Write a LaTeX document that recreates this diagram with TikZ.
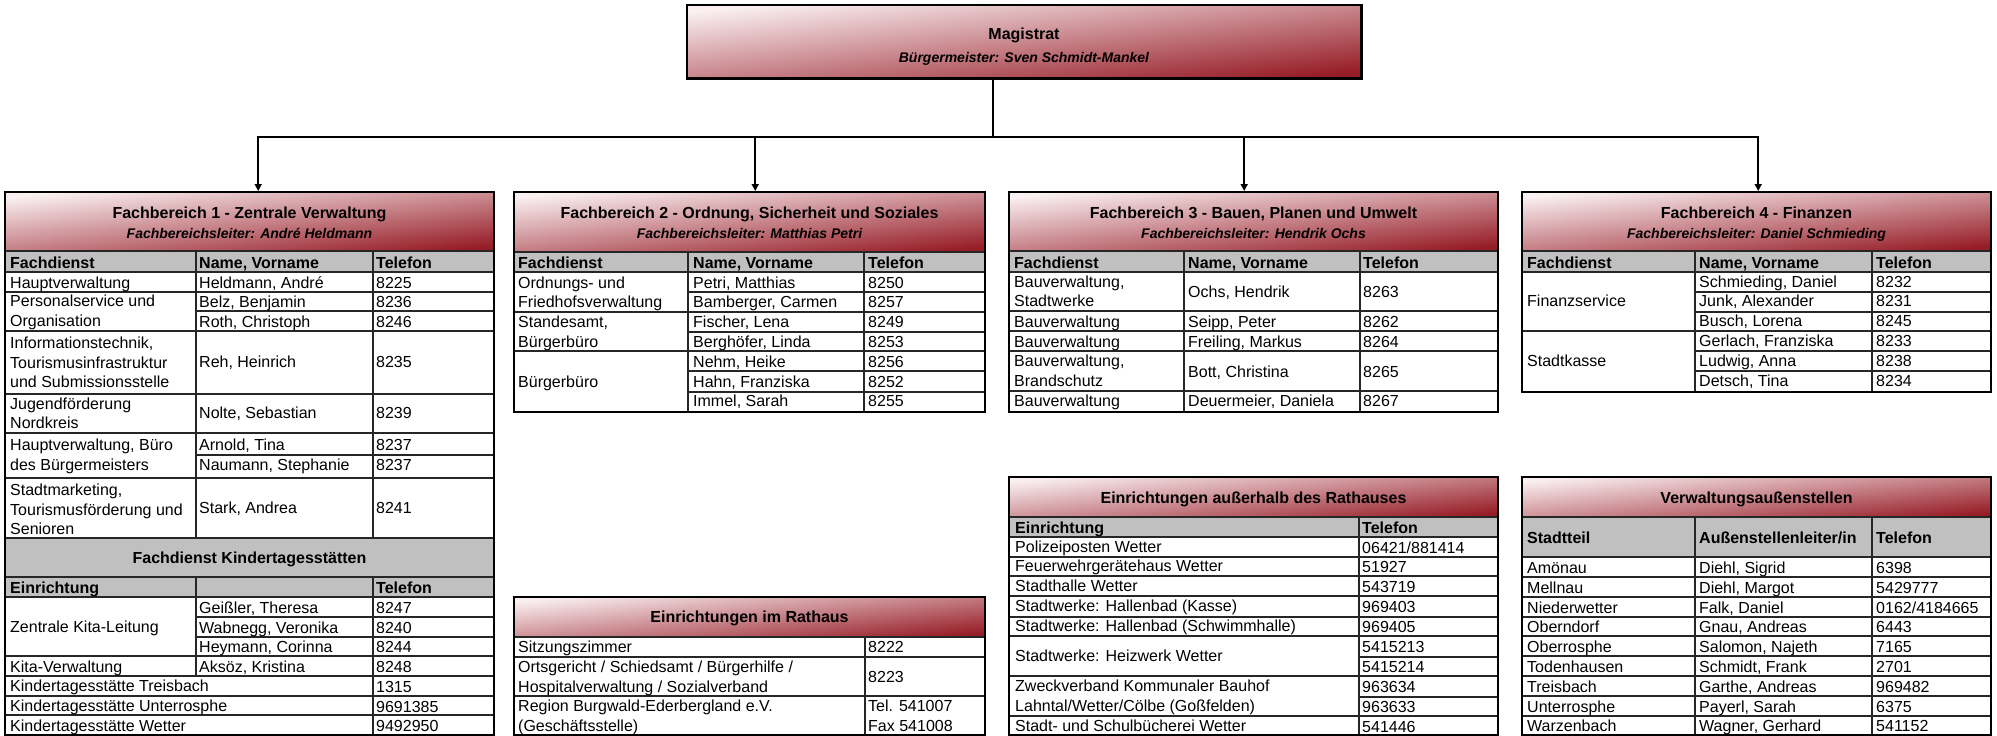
\documentclass[tikz,border=0pt]{standalone}
\usepackage{fontspec}
\setmainfont{Liberation Sans}
\usetikzlibrary{arrows.meta, positioning}
\definecolor{hdlight}{RGB}{250,240,242}
\definecolor{hddark}{RGB}{150,28,38}
\definecolor{hdgray}{RGB}{192,192,192}

\begin{document}
\begin{tikzpicture}[x=1pt, y=-1pt,
    hband/.style={anchor=north west, inner sep=0pt, top color=hdlight, bottom color=hddark, shading angle=6},
    tframe/.style={draw=black, line width=2.6pt},
    tline/.style={line width=1.1pt, black!85},
    link/.style={line width=1.6pt},
    cell/.style={anchor=base west, inner sep=0pt, font=\fontsize{16}{19}\selectfont},
    cellb/.style={cell, font=\fontsize{16}{19}\selectfont\bfseries},
    htitle/.style={anchor=base, inner sep=0pt, font=\fontsize{16}{19}\selectfont\bfseries},
    hsub/.style={anchor=base, inner sep=0pt, font=\fontsize{14}{17}\selectfont\bfseries\itshape}]

    \useasboundingbox (0,0) rectangle (1997,736);
    \fill[white] (0,0) rectangle (1997,736);

    % Magistrat
    \node[hband, minimum width=674pt, minimum height=73pt] (mag) at (687,5) {};
    \draw[tframe] (mag.north west) rectangle (mag.south east);
    \node[htitle] (magt) at (1024,39) {Magistrat};
    \node[hsub] (mags) at (1024,62) {Bürgermeister: Sven Schmidt-Mankel};

    % header bands
    \node[hband, minimum width=489pt, minimum height=59pt] (fb1) at (5,192) {};
    \node[hband, minimum width=471pt, minimum height=60pt] (fb2) at (514,192) {};
    \node[hband, minimum width=489pt, minimum height=59pt] (fb3) at (1009,192) {};
    \node[hband, minimum width=469pt, minimum height=59pt] (fb4) at (1522,192) {};
    \node[hband, minimum width=471pt, minimum height=40pt] (rh) at (514,597) {};
    \node[hband, minimum width=489pt, minimum height=40pt] (ea) at (1009,477) {};
    \node[hband, minimum width=469pt, minimum height=40pt] (va) at (1522,477) {};

    % gray rows
    \fill[hdgray] (5,251) rectangle (494,272) (5,538) rectangle (494,597);
    \fill[hdgray] (514,252) rectangle (985,272);
    \fill[hdgray] (1009,251) rectangle (1498,272) (1009,517) rectangle (1498,537);
    \fill[hdgray] (1522,251) rectangle (1991,272) (1522,517) rectangle (1991,557);

    % Fachbereich 1
    \foreach \y in {251,272,292,331,394,433,478,538,577,597,656,676,696,715}
        \draw[tline] (5,\y) -- (494,\y);
    \foreach \y in {311,455,617,637}
        \draw[tline] (196,\y) -- (494,\y);
    \draw[tline] (196,251) -- (196,538) (373,251) -- (373,538)
        (196,577) -- (196,676) (373,577) -- (373,735);
    \draw[tframe] (5,192) rectangle (494,735);

    % Fachbereich 2
    \foreach \y in {252,272,312,351}
        \draw[tline] (514,\y) -- (985,\y);
    \foreach \y in {292,332,371,392}
        \draw[tline] (688,\y) -- (985,\y);
    \draw[tline] (688,252) -- (688,412) (864,252) -- (864,412);
    \draw[tframe] (514,192) rectangle (985,412);

    % Fachbereich 3
    \foreach \y in {251,272,311,331,351,391}
        \draw[tline] (1009,\y) -- (1498,\y);
    \draw[tline] (1184,251) -- (1184,412) (1360,251) -- (1360,412);
    \draw[tframe] (1009,192) rectangle (1498,412);

    % Fachbereich 4
    \foreach \y in {251,272,331}
        \draw[tline] (1522,\y) -- (1991,\y);
    \foreach \y in {292,312,351,371}
        \draw[tline] (1695,\y) -- (1991,\y);
    \draw[tline] (1695,251) -- (1695,392) (1872,251) -- (1872,392);
    \draw[tframe] (1522,192) rectangle (1991,392);

    % Rathaus
    \foreach \y in {637,657,696}
        \draw[tline] (514,\y) -- (985,\y);
    \draw[tline] (865,637) -- (865,735);
    \draw[tframe] (514,597) rectangle (985,735);

    % ausserhalb
    \foreach \y in {517,537,557,576,596,617,636,676,716}
        \draw[tline] (1009,\y) -- (1498,\y);
    \foreach \y in {657,697}
        \draw[tline] (1359,\y) -- (1498,\y);
    \draw[tline] (1359,517) -- (1359,735);
    \draw[tframe] (1009,477) rectangle (1498,735);

    % Aussenstellen
    \foreach \y in {517,557,577,597,617,636,656,676,696,716}
        \draw[tline] (1522,\y) -- (1991,\y);
    \draw[tline] (1695,517) -- (1695,735) (1872,517) -- (1872,735);
    \draw[tframe] (1522,477) rectangle (1991,735);

    % titles
    \foreach \k/\x/\t/\l in {1/249.5/Fachbereich 1 - Zentrale Verwaltung/André Heldmann,
        2/749.5/{Fachbereich 2 - Ordnung, Sicherheit und Soziales}/Matthias Petri,
        3/1253.5/{Fachbereich 3 - Bauen, Planen und Umwelt}/Hendrik Ochs,
        4/1756.5/Fachbereich 4 - Finanzen/Daniel Schmieding} {
        \node[htitle] (fb\k t) at (\x,218) {\t};
        \node[hsub] (fb\k s) at (\x,238) {Fachbereichsleiter: \l};
    }
    \node[htitle] (kita) at (249.5,563) {Fachdienst Kindertagesstätten};
    \node[htitle] (rht) at (749.5,622) {Einrichtungen im Rathaus};
    \node[htitle] (eat) at (1253.5,503) {Einrichtungen außerhalb des Rathauses};
    \node[htitle] (vat) at (1756.5,503) {Verwaltungsaußenstellen};

    % column heads
    \foreach \a/\b/\c/\k in {10/199/376/1, 518/693/868/2, 1014/1188/1363/3, 1527/1699/1876/4} {
        \node[cellb] (fb\k h1) at (\a,268) {Fachdienst};
        \node[cellb] (fb\k h2) at (\b,268) {Name, Vorname};
        \node[cellb] (fb\k h3) at (\c,268) {Telefon};
    }
    \node[cellb] (kih1) at (10,593) {Einrichtung};
    \node[cellb] (kih2) at (376,593) {Telefon};
    \node[cellb] (eah1) at (1015,533) {Einrichtung};
    \node[cellb] (eah2) at (1362,533) {Telefon};
    \node[cellb] (vah1) at (1527,543) {Stadtteil};
    \node[cellb] (vah2) at (1699,543) {Außenstellenleiter/in};
    \node[cellb] (vah3) at (1876,543) {Telefon};

    % Fachbereich 1 cells
    \foreach \x/\y/\s [count=\i] in {
        10/288/Hauptverwaltung, 199/288/{Heldmann, André}, 376/288/8225,
        10/306/Personalservice und, 10/326/Organisation,
        199/307/{Belz, Benjamin}, 376/307/8236, 199/327/{Roth, Christoph}, 376/327/8246,
        10/348/{Informationstechnik,}, 10/368/Tourismusinfrastruktur, 10/387/und Submissionsstelle,
        199/367/{Reh, Heinrich}, 376/367/8235,
        10/409/Jugendförderung, 10/428/Nordkreis, 199/418/{Nolte, Sebastian}, 376/418/8239,
        10/450/{Hauptverwaltung, Büro}, 10/470/des Bürgermeisters,
        199/450/{Arnold, Tina}, 376/450/8237, 199/470/{Naumann, Stephanie}, 376/470/8237,
        10/495/{Stadtmarketing,}, 10/515/Tourismusförderung und, 10/534/Senioren,
        199/513/{Stark, Andrea}, 376/513/8241,
        10/632/Zentrale Kita-Leitung,
        199/613/{Geißler, Theresa}, 376/613/8247, 199/633/{Wabnegg, Veronika}, 376/633/8240,
        199/652/{Heymann, Corinna}, 376/652/8244,
        10/672/Kita-Verwaltung, 199/672/{Aksöz, Kristina}, 376/672/8248,
        10/691/Kindertagesstätte Treisbach, 376/692/1315,
        10/711/Kindertagesstätte Unterrosphe, 376/712/9691385,
        10/731/Kindertagesstätte Wetter, 376/731/9492950}
        \node[cell] (fb1c\i) at (\x,\y) {\s};

    % Fachbereich 2 cells
    \foreach \x/\y/\s [count=\i] in {
        518/288/Ordnungs- und, 518/307/Friedhofsverwaltung,
        693/288/{Petri, Matthias}, 868/288/8250, 693/307/{Bamberger, Carmen}, 868/307/8257,
        518/327/{Standesamt,}, 518/347/Bürgerbüro,
        693/327/{Fischer, Lena}, 868/327/8249, 693/347/{Berghöfer, Linda}, 868/347/8253,
        693/367/{Nehm, Heike}, 868/367/8256, 518/387/Bürgerbüro,
        693/387/{Hahn, Franziska}, 868/387/8252, 693/406/{Immel, Sarah}, 868/406/8255}
        \node[cell] (fb2c\i) at (\x,\y) {\s};

    % Fachbereich 3 cells
    \foreach \x/\y/\s [count=\i] in {
        1014/287/{Bauverwaltung,}, 1014/306/Stadtwerke, 1188/297/{Ochs, Hendrik}, 1363/297/8263,
        1014/327/Bauverwaltung, 1188/327/{Seipp, Peter}, 1363/327/8262,
        1014/347/Bauverwaltung, 1188/347/{Freiling, Markus}, 1363/347/8264,
        1014/366/{Bauverwaltung,}, 1014/386/Brandschutz, 1188/377/{Bott, Christina}, 1363/377/8265,
        1014/406/Bauverwaltung, 1188/406/{Deuermeier, Daniela}, 1363/406/8267}
        \node[cell] (fb3c\i) at (\x,\y) {\s};

    % Fachbereich 4 cells
    \foreach \x/\y/\s [count=\i] in {
        1699/287/{Schmieding, Daniel}, 1876/287/8232, 1527/306/Finanzservice,
        1699/306/{Junk, Alexander}, 1876/306/8231, 1699/326/{Busch, Lorena}, 1876/326/8245,
        1699/346/{Gerlach, Franziska}, 1876/346/8233, 1527/366/Stadtkasse,
        1699/366/{Ludwig, Anna}, 1876/366/8238, 1699/386/{Detsch, Tina}, 1876/386/8234}
        \node[cell] (fb4c\i) at (\x,\y) {\s};

    % Rathaus cells
    \foreach \x/\y/\s [count=\i] in {
        518/652/Sitzungszimmer, 868/652/8222,
        518/672/{Ortsgericht / Schiedsamt / Bürgerhilfe /}, 518/692/{Hospitalverwaltung / Sozialverband}, 868/682/8223,
        518/711/Region Burgwald-Ederbergland e.V., 518/731/(Geschäftsstelle),
        868/711/Tel. 541007, 868/731/Fax 541008}
        \node[cell] (rhc\i) at (\x,\y) {\s};

    % ausserhalb cells
    \foreach \x/\y/\s [count=\i] in {
        1015/552/Polizeiposten Wetter, 1362/553/{06421/881414},
        1015/571/Feuerwehrgerätehaus Wetter, 1362/572/51927,
        1015/591/Stadthalle Wetter, 1362/592/543719,
        1015/611/Stadtwerke: Hallenbad (Kasse), 1362/612/969403,
        1015/631/Stadtwerke: Hallenbad (Schwimmhalle), 1362/632/969405,
        1015/661/Stadtwerke: Heizwerk Wetter, 1362/652/5415213, 1362/672/5415214,
        1015/691/Zweckverband Kommunaler Bauhof, 1015/711/{Lahntal/Wetter/Cölbe (Goßfelden)},
        1362/692/963634, 1362/712/963633,
        1015/731/Stadt- und Schulbücherei Wetter, 1362/732/541446}
        \node[cell] (eac\i) at (\x,\y) {\s};

    % Aussenstellen cells
    \foreach \y/\a/\b/\c [count=\i] in {
        573/Amönau/{Diehl, Sigrid}/6398, 593/Mellnau/{Diehl, Margot}/5429777,
        613/Niederwetter/{Falk, Daniel}/{0162/4184665}, 632/Oberndorf/{Gnau, Andreas}/6443,
        652/Oberrosphe/{Salomon, Najeth}/7165, 672/Todenhausen/{Schmidt, Frank}/2701,
        692/Treisbach/{Garthe, Andreas}/969482, 712/Unterrosphe/{Payerl, Sarah}/6375,
        731/Warzenbach/{Wagner, Gerhard}/541152} {
        \node[cell] (va\i a) at (1527,\y) {\a};
        \node[cell] (va\i b) at (1699,\y) {\b};
        \node[cell] (va\i c) at (1876,\y) {\c};
    }

    % connectors
    \coordinate (bus) at (993,137);
    \draw[link] (mag.south -| bus) -- (bus);
    \foreach \k/\d in {1/8.5, 2/5.5, 3/-9.5, 4/1.5}
        \draw[link, -{Triangle[length=7pt, width=7pt]}, shorten >=1pt] (bus) -| ([xshift=\d pt]fb\k.north);
\end{tikzpicture}
\end{document}
